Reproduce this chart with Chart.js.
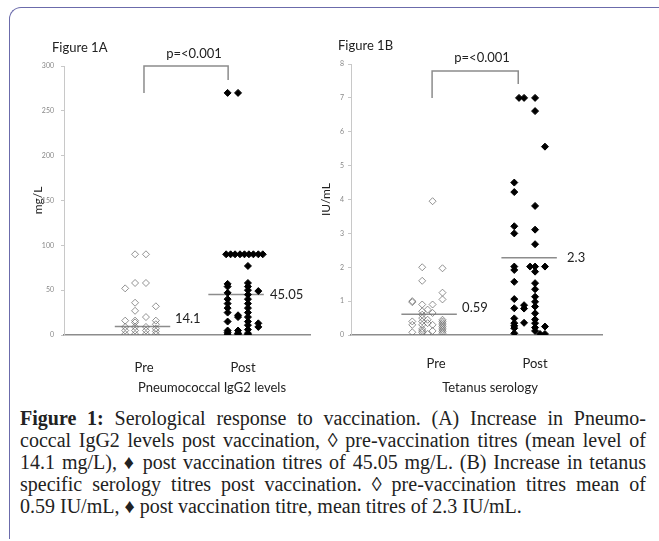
<!DOCTYPE html>
<html>
<head>
<meta charset="utf-8">
<script src="https://cdn.jsdelivr.net/npm/chart.js@4.4.1/dist/chart.umd.min.js"></script>
<style>
  body { margin: 0; width: 659px; height: 541px; overflow: hidden; background: #fff; position: relative; font-family: Lato, sans-serif; }
  .frame { position: absolute; left: 9px; top: 7px; width: 700px; height: 531px; border-top: 1.5px solid #6b6bab; border-left: 1.5px solid #6b6bab; border-top-left-radius: 12px; }
  canvas { position: absolute; top: 0; }
  #chartA { left: 0; }
  #chartB { left: 300px; }
  .fig { position: absolute; font-size: 13px; color: #222; line-height: 16px; }
  .caption { position: absolute; left: 20px; top: 407px; width: 626px; font-family: 'Liberation Serif', 'Times New Roman', serif; font-size: 20px; line-height: 22px; color: #222; }
  .caption div { text-align: justify; text-align-last: justify; white-space: nowrap; }
  .caption div.last { text-align-last: left; }
</style>
</head>
<body>
<div class="frame"></div>
<canvas id="chartA" width="330" height="400"></canvas>
<canvas id="chartB" width="359" height="400"></canvas>
<div class="fig" style="left:52px; top:39px;">Figure 1A</div>
<div class="fig" style="left:338px; top:37px;">Figure 1B</div>
<div class="caption">
  <div><b>Figure 1:</b> Serological response to vaccination. (A) Increase in Pneumo-</div>
  <div>coccal IgG2 levels post vaccination, ◊ pre-vaccination titres (mean level of</div>
  <div>14.1 mg/L), ♦ post vaccination titres of 45.05 mg/L. (B) Increase in tetanus</div>
  <div>specific serology titres post vaccination. ◊ pre-vaccination titres mean of</div>
  <div class="last">0.59 IU/mL, ♦ post vaccination titre, mean titres of 2.3 IU/mL.</div>
</div>
<script>
const categories = ['Pre', 'Post'];

// Figure 1A - pneumococcal IgG2 (mg/L). Each column is one jitter position (Pre = 1, Post = 2)
const preAColX = [0.81, 0.91, 1.02, 1.12];
const preAColY = [
  [52, 16, 9, 5, 1],
  [90, 58, 36, 27, 16, 14, 9, 5, 1],
  [90, 58, 20, 9, 5, 1],
  [32, 16, 12, 7, 4, 1]
];
const postAColX = [1.83, 1.845, 1.875, 1.92, 1.95, 1.97, 2.015, 2.05, 2.06, 2.105, 2.155, 2.2];
const postAColY = [
  [90],
  [270, 57, 54, 47, 40, 35, 30, 25, 15, 5, 3, 1],
  [90],
  [90],
  [270, 22, 20, 5, 2, 1],
  [90],
  [90],
  [77, 58, 54, 50, 45, 40, 35, 30, 25, 20, 15, 11, 6, 2, 0.5],
  [90],
  [90],
  [90, 49, 13, 9],
  [90]
];
const meanLineA = [9.5, 45.3];
const meanTextA = ['14.1', '45.05'];

// Figure 1B - tetanus serology (IU/mL)
const preBColX = [0.76, 0.86, 0.915, 0.965, 1.065];
const preBColY = [
  [1.0, 0.97, 0.4, 0.3, 0.08],
  [2.0, 1.6, 0.9, 0.7, 0.6, 0.5, 0.4, 0.3, 0.18, 0.12, 0.07],
  [0.75, 0.45, 0.35, 0.03],
  [3.95, 0.9, 0.65, 0.3, 0.12],
  [1.97, 1.25, 1.05, 0.45, 0.4, 0.35, 0.3, 0.25, 0.2, 0.15, 0.1, 0.05]
];
const postBColX = [1.79, 1.838, 1.889, 1.95, 2.0, 2.05, 2.1];
const postBColY = [
  [4.5, 4.22, 3.21, 3.0, 2.02, 1.92, 1.57, 1.06, 0.79, 0.49, 0.35, 0.27, 0.2, 0.05],
  [7.0],
  [7.0, 0.88, 0.78, 0.36],
  [2.02],
  [7.0, 6.61, 3.81, 3.11, 2.68, 2.02, 1.87, 1.53, 1.35, 1.13, 0.98, 0.84, 0.64, 0.46, 0.35, 0.22, 0.12],
  [0.03],
  [5.56, 2.02, 0.25, 0.03]
];
const meanLineB = [0.61, 2.28];
const meanTextB = ['0.59', '2.3'];

const pText = 'p=<0.001';

Chart.defaults.font.family = 'Lato, sans-serif';

function columnPoints(colX, colY) {
  const pts = [];
  colX.forEach((x, i) => colY[i].forEach(y => pts.push({ x, y })));
  return pts;
}

// bracket, p value, mean labels and the x-axis caption
const annotPlugin = {
  id: 'annot',
  afterDatasetsDraw(chart, args, o) {
    const { ctx, scales: { x, y } } = chart;
    const b = o.bracket;
    const x0 = x.getPixelForValue(b.x0), x1 = x.getPixelForValue(b.x1);
    const top = y.getPixelForValue(b.top);
    ctx.save();
    ctx.strokeStyle = '#8c8c8c';
    ctx.lineWidth = 1.5;
    ctx.beginPath();
    ctx.moveTo(x0, y.getPixelForValue(b.y0));
    ctx.lineTo(x0, top);
    ctx.lineTo(x1, top);
    ctx.lineTo(x1, y.getPixelForValue(b.y1));
    ctx.stroke();

    ctx.fillStyle = '#222';
    ctx.font = '13px Lato';
    ctx.textAlign = 'center';
    ctx.textBaseline = 'middle';
    ctx.fillText(pText, x.getPixelForValue(o.pX), top - o.pGap);
    ctx.fillText(o.xTitle, x.getPixelForValue(o.xTitleX), chart.chartArea.bottom + 53);

    ctx.textAlign = 'left';
    o.labels.forEach(l => {
      ctx.fillText(l.text, x.getPixelForValue(l.x), y.getPixelForValue(l.y));
    });
    ctx.restore();
  }
};

function meanLine(center, value) {
  return {
    data: [{ x: center - 0.28, y: value }, { x: center + 0.28, y: value }],
    showLine: true, borderColor: '#8c8c8c', borderWidth: 1.5, pointRadius: 0, order: 2
  };
}

function makeChart(id, cfg) {
  return new Chart(document.getElementById(id), {
    type: 'scatter',
    data: {
      datasets: [
        { data: columnPoints(cfg.preX, cfg.preY), pointStyle: 'rectRot', radius: 3.5, borderWidth: 1,
          borderColor: 'rgba(100,100,100,0.7)', backgroundColor: 'rgba(255,255,255,0)', order: 1 },
        { data: columnPoints(cfg.postX, cfg.postY), pointStyle: 'rectRot', radius: 3.5, borderWidth: 1,
          borderColor: '#000', backgroundColor: '#000', order: 1 },
        meanLine(cfg.centers[0], cfg.means[0]),
        meanLine(cfg.centers[1], cfg.means[1])
      ]
    },
    options: {
      responsive: false,
      animation: false,
      layout: { padding: cfg.padding },
      plugins: {
        legend: { display: false },
        tooltip: { enabled: false },
        annot: cfg.annot
      },
      scales: {
        x: {
          type: 'linear', min: cfg.xMin, max: cfg.xMax,
          afterFit: s => { s.height = 65; },
          afterBuildTicks: s => { s.ticks = [{ value: 1 }, { value: 2 }]; },
          ticks: { callback: v => categories[v - 1], font: { size: 13 }, color: '#222', padding: cfg.xTickPad, autoSkip: false },
          grid: { display: false, drawTicks: false },
          border: { color: '#8c8c8c', width: 1.5 }
        },
        y: {
          min: 0, max: cfg.yMax,
          afterFit: s => { s.width = cfg.yWidth; },
          ticks: { stepSize: cfg.yStep, font: { size: 7 }, color: '#888', padding: cfg.yTickPad },
          grid: { drawOnChartArea: false, tickLength: 3, color: '#c8c8c8' },
          border: { color: '#c8c8c8', width: 1 },
          title: { display: true, text: cfg.yTitle, font: { size: 12 }, color: '#222', padding: { top: cfg.yTitlePad, bottom: 0 } }
        }
      }
    },
    plugins: [annotPlugin]
  });
}

makeChart('chartA', {
  preX: preAColX, preY: preAColY, postX: postAColX, postY: postAColY,
  centers: [0.985, 1.93], means: meanLineA,
  xMin: 0.192, xMax: 2.677, yMax: 300, yStep: 50,
  yWidth: 64, yTickPad: 7, yTitlePad: 31, xTickPad: 25,
  padding: { top: 66, right: 20, bottom: 0, left: 0 },
  yTitle: 'mg/L',
  annot: {
    bracket: { x0: 1.0, x1: 1.85, top: 300, y0: 270, y1: 284.5 },
    pX: 1.505, pGap: 12,
    xTitle: 'Pneumococcal IgG2 levels', xTitleX: 1.687,
    labels: [{ text: meanTextA[0], x: 1.313, y: 18.4 }, { text: meanTextA[1], x: 2.273, y: 44.6 }]
  }
});

makeChart('chartB', {
  preX: preBColX, preY: preBColY, postX: postBColX, postY: postBColY,
  centers: [0.93, 1.94], means: meanLineB,
  xMin: 0.141, xMax: 2.676, yMax: 8, yStep: 1,
  yWidth: 51, yTickPad: 4, yTitlePad: 19, xTickPad: 21,
  padding: { top: 64, right: 57, bottom: 0, left: 0 },
  yTitle: 'IU/mL',
  annot: {
    bracket: { x0: 0.96, x1: 1.83, top: 7.79, y0: 7.0, y1: 7.41 },
    pX: 1.465, pGap: 13,
    xTitle: 'Tetanus serology', xTitleX: 1.545,
    labels: [{ text: meanTextB[0], x: 1.263, y: 0.797 }, { text: meanTextB[1], x: 2.323, y: 2.27 }]
  }
});
</script>
</body>
</html>
